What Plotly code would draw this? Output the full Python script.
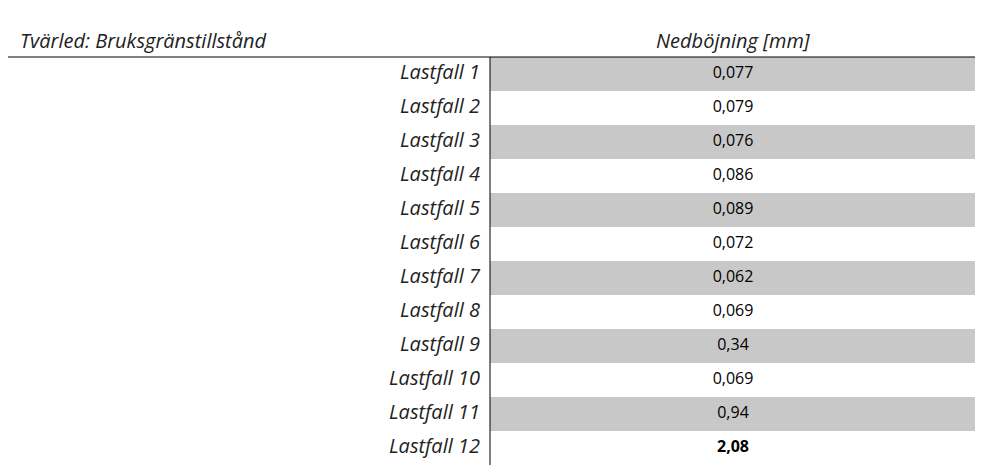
import plotly.graph_objects as go

title_left = "Tvärled: Bruksgränstillstånd"
title_right = "Nedböjning [mm]"
cases = [f"Lastfall {i}" for i in range(1, 13)]
values = ["0,077", "0,079", "0,076", "0,086", "0,089", "0,072",
          "0,062", "0,069", "0,34", "0,069", "0,94", "2,08"]

rows = list(range(len(cases)))
shaded = [r for r in rows if r % 2 == 0]
vals = [f"<b>{v}</b>" if i == len(values) - 1 else v for i, v in enumerate(values)]

fig = go.Figure()
fig.add_trace(go.Bar(orientation="h", y=shaded, x=[485] * len(shaded), base=482,
                     width=1, marker=dict(color="#c8c8c8", line=dict(width=0)),
                     hoverinfo="skip"))
fig.add_trace(go.Scatter(x=[472] * len(cases), y=rows, text=cases, mode="text",
                         textposition="middle left",
                         textfont=dict(family="Open Sans", size=20, color="#222", style="italic")))
fig.add_trace(go.Scatter(x=[725] * len(values), y=rows, text=vals, mode="text",
                         textposition="middle center",
                         textfont=dict(family="Open Sans", size=16, color="black")))
y_hdr = (32 - 66) / 34
fig.add_annotation(x=10, y=y_hdr, text=f"<i>{title_left}</i>", showarrow=False,
                   xanchor="left", font=dict(family="Open Sans", size=20, color="#222"))
fig.add_annotation(x=725, y=y_hdr, text=f"<i>{title_right}</i>", showarrow=False,
                   xanchor="center", font=dict(family="Open Sans", size=20, color="#222"))
y_line = (49 - 66) / 34
fig.add_shape(type="line", x0=0, x1=967, y0=y_line, y1=y_line, line=dict(color="black", width=1))
fig.add_shape(type="line", x0=482, x1=482, y0=y_line, y1=len(cases) - 0.5,
              line=dict(color="black", width=1))
fig.update_layout(width=999, height=469, margin=dict(l=0, r=0, t=0, b=0),
                  paper_bgcolor="white", plot_bgcolor="white", showlegend=False,
                  bargap=0,
                  xaxis=dict(range=[0, 999], visible=False, fixedrange=True),
                  yaxis=dict(range=[(469 - 66) / 34, -66 / 34], visible=False, fixedrange=True))
fig.write_html("out.html")
